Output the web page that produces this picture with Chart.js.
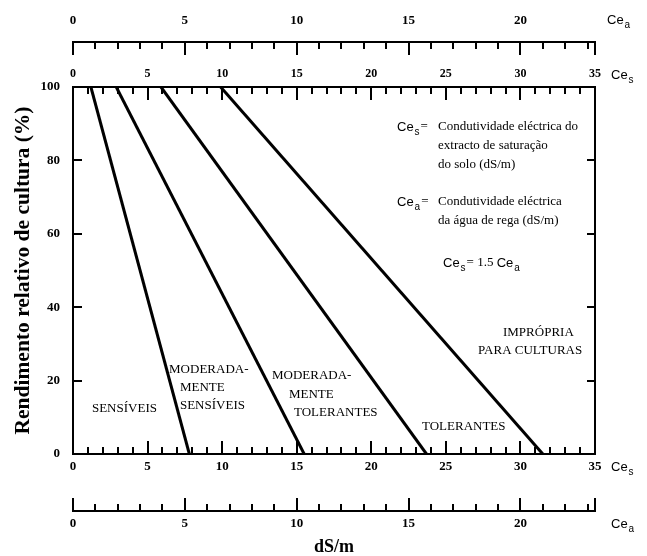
<!DOCTYPE html>
<html>
<head>
<meta charset="utf-8">
<script src="https://cdn.jsdelivr.net/npm/chart.js@4.4.1/dist/chart.umd.min.js"></script>
<style>
  html, body { margin: 0; padding: 0; background: #fff; }
  #wrap { width: 647px; height: 556px; }
</style>
</head>
<body>
<div id="wrap"><canvas id="chart" width="647" height="556"></canvas></div>
<script>
// Ce_s (dS/m) where each boundary line meets 100 % and 0 % relative yield
const ceAt100 = [1.2, 2.9, 5.9, 9.9];
const ceAt0 = [7.8, 15.5, 23.7, 31.5];
const yieldEnds = [100, 0];

const cesTicks = [0, 5, 10, 15, 20, 25, 30, 35];
const ceaTicks = [0, 5, 10, 15, 20];
const yTicks = [0, 20, 40, 60, 80, 100];
const CES_MAX = 35;
const CEA_MAX = CES_MAX / 1.5;   // Ce_s = 1.5 Ce_a

// class names written between the lines (Ce_s, % yield of the left edge)
const zoneText = [
    { text: 'SENSÍVEIS', x: 1.27, y: 12.3 },
    { text: 'MODERADA-', x: 6.44, y: 22.9 },
    { text: 'MENTE', x: 7.17, y: 18.0 },
    { text: 'SENSÍVEIS', x: 7.17, y: 13.1 },
    { text: 'MODERADA-', x: 13.34, y: 21.3 },
    { text: 'MENTE', x: 14.48, y: 16.1 },
    { text: 'TOLERANTES', x: 14.82, y: 11.2 },
    { text: 'TOLERANTES', x: 23.4, y: 7.6 },
    { text: 'IMPRÓPRIA', x: 28.83, y: 33.2 },
    { text: 'PARA CULTURAS', x: 27.16, y: 28.3 },
];

const SERIF = '"Liberation Serif", "Times New Roman", serif';
const SANS = '"Liberation Sans", Arial, sans-serif';
const tickFont = { family: SERIF, size: 13, weight: 'bold' };

const datasets = ceAt100.map((top, i) => ({
    data: [{ x: top, y: yieldEnds[0] }, { x: ceAt0[i], y: yieldEnds[1] }],
    showLine: true,
    borderColor: '#000',
    borderWidth: 3,
    pointRadius: 0,
}));

const setTicks = vals => scale => { scale.ticks = vals.map(v => ({ value: v })); };
const setH = h => scale => { scale.height = h; };
const setW = w => scale => { scale.width = w; };

function hScale(position, max, ticks, weight, height, pad, size) {
    return {
        type: 'linear', position, min: 0, max, weight,
        grid: { display: false, drawTicks: false },
        border: { display: true, color: '#000', width: 2 },
        ticks: { color: '#000', font: { ...tickFont, size }, padding: pad, autoSkip: false, maxRotation: 0 },
        afterBuildTicks: setTicks(ticks),
        afterFit: setH(height),
    };
}

function drawCe(ctx, x, y, sub) {
    ctx.font = '13px ' + SANS;
    ctx.textAlign = 'left';
    ctx.textBaseline = 'middle';
    ctx.fillText('Ce', x, y);
    const w = ctx.measureText('Ce').width;
    ctx.font = '10px ' + SANS;
    ctx.fillText(sub, x + w + 1, y + 5);
    return x + w + 1 + ctx.measureText(sub).width;
}

const decor = {
    id: 'decor',
    afterDraw(chart) {
        const { ctx, scales: s } = chart;
        ctx.save();
        ctx.strokeStyle = '#000';
        ctx.lineWidth = 2;
        const line = (x1, y1, x2, y2) => { ctx.beginPath(); ctx.moveTo(x1, y1); ctx.lineTo(x2, y2); ctx.stroke(); };

        // inward tick marks on the horizontal scales
        const hMarks = (scale, max, edge, dir) => {
            for (let v = 0; v <= max + 1e-6; v++) {
                const px = Math.round(scale.getPixelForValue(v));
                line(px, edge, px, edge + dir * (v % 5 === 0 ? 13 : 7));
            }
            const end = Math.round(scale.getPixelForValue(max));
            line(end, edge, end, edge + dir * 13);
        };
        hMarks(s.x, CES_MAX, s.x.top, -1);
        hMarks(s.x2, CES_MAX, s.x2.bottom, 1);
        hMarks(s.xaTop, CEA_MAX, s.xaTop.bottom, 1);
        hMarks(s.xaBot, CEA_MAX, s.xaBot.top, -1);

        yTicks.forEach(v => {
            const py = Math.round(s.y.getPixelForValue(v));
            line(s.y.right, py, s.y.right + 9, py);
            line(s.y2.left, py, s.y2.left - 8, py);
        });

        ctx.fillStyle = '#000';
        // axis names on the right
        const rx = s.x.right + 16;
        drawCe(ctx, rx - 4, s.xaTop.bottom - 22, 'a');
        drawCe(ctx, rx, s.x2.bottom - 12, 's');
        drawCe(ctx, rx, s.x.top + 13, 's');
        drawCe(ctx, rx, s.xaBot.top + 13, 'a');

        // zone labels
        ctx.font = '13px ' + SERIF;
        ctx.textAlign = 'left';
        ctx.textBaseline = 'middle';
        zoneText.forEach(t => {
            ctx.fillText(t.text, s.x.getPixelForValue(t.x), s.y.getPixelForValue(t.y));
        });

        // definitions
        const defs = [
            ['s', 127, ['Condutividade eléctrica do', 'extracto de saturação', 'do solo (dS/m)']],
            ['a', 202, ['Condutividade eléctrica', 'da água de rega (dS/m)']],
        ];
        defs.forEach(([sub, y0, lines]) => {
            const after = drawCe(ctx, 397, y0, sub);
            ctx.font = '13px ' + SERIF;
            ctx.fillText('=', after + 1, y0);
            lines.forEach((l, i) => ctx.fillText(l, 438, y0 + i * 19));
        });
        let x = drawCe(ctx, 443, 263, 's');
        ctx.font = '13px ' + SERIF;
        ctx.fillText('= 1.5', x + 1, 263);
        x += 1 + ctx.measureText('= 1.5 ').width;
        drawCe(ctx, x, 263, 'a');

        ctx.restore();
    }
};

new Chart(document.getElementById('chart'), {
    type: 'scatter',
    data: { datasets },
    options: {
        responsive: false,
        animation: false,
        layout: { padding: 0 },
        plugins: { legend: { display: false }, tooltip: { enabled: false } },
        scales: {
            x: hScale('bottom', CES_MAX, cesTicks, 0, 57, 5, 13),
            xaBot: {
                ...hScale('bottom', CEA_MAX, ceaTicks, 1, 45, 5, 13),
                title: {
                    display: true, text: 'dS/m', color: '#000', padding: 0,
                    font: { family: SERIF, size: 18, weight: 'bold', lineHeight: 1 },
                },
            },
            x2: hScale('top', CES_MAX, cesTicks, 0, 45, 6, 12),
            xaTop: hScale('top', CEA_MAX, ceaTicks, 1, 42, 14, 13),
            y: {
                type: 'linear', position: 'left', min: 0, max: 100,
                grid: { display: false, drawTicks: false },
                border: { display: true, color: '#000', width: 2 },
                ticks: { color: '#000', font: tickFont, padding: 13 },
                afterBuildTicks: setTicks(yTicks),
                afterFit: setW(73),
                title: {
                    display: true, text: 'Rendimento relativo de cultura (%)', color: '#000',
                    padding: { top: 13, bottom: 0 },
                    font: { family: SERIF, size: 21.5, weight: 'bold', lineHeight: 1 },
                },
            },
            y2: {
                type: 'linear', position: 'right', min: 0, max: 100,
                grid: { display: false, drawTicks: false },
                border: { display: true, color: '#000', width: 2 },
                ticks: { display: false },
                afterFit: setW(52),
            },
        },
    },
    plugins: [decor],
});
</script>
</body>
</html>
